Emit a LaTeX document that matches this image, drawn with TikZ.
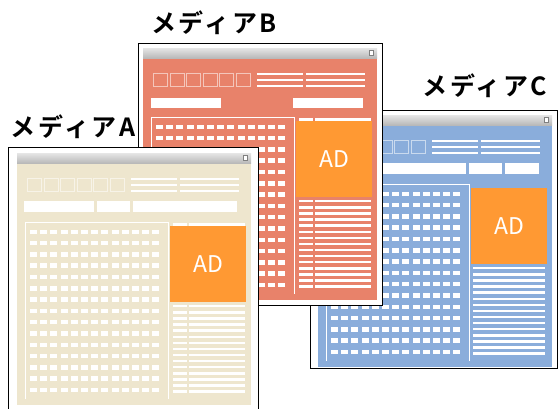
\documentclass[tikz,border=0pt]{standalone}
\usepackage{fontspec}
\newfontfamily\jpfont{Noto Sans CJK JP}[BoldFont=* Bold]
\newfontfamily\jplabel{Noto Sans CJK JP}[BoldFont=* Bold, LetterSpace=10]

\definecolor{mediaA}{RGB}{238,230,206}
\definecolor{mediaB}{RGB}{232,130,106}
\definecolor{mediaC}{RGB}{138,173,219}
\definecolor{adorange}{RGB}{255,153,51}

\tikzset{
	winframe/.style={draw=black, fill=white, line width=.8pt},
	adbox/.style={fill=adorange, text=white, minimum width=76pt, minimum height=76pt,
		inner sep=0pt, font=\jpfont\fontsize{23}{23}\selectfont},
	medialabel/.style={font=\jplabel\bfseries\fontsize{25}{25}\selectfont},
	whitebar/.style={fill=white}
}

% common parts of one page, inner area 234 x 252
\newcommand{\mediapage}[2]{%
	\fill[#1] (0,0) rectangle (234,252);
	\shade[top color=gray!20, bottom color=gray!55] (0,0) rectangle (234,10);
	\draw[gray, fill=white] (226,2.5) rectangle (230.5,7.5);
	\foreach \i in {0,...,5}
		\draw[white, opacity=.55, line width=1pt] (10.5+16.5*\i,25.5) rectangle ++(14,13);
	\foreach \y in {26,32,38} {
		\fill[whitebar] (114,\y-1.3) rectangle (160,\y+1.3);
		\fill[whitebar] (163,\y-1.3) rectangle (222,\y+1.3);
	}
	\draw[white, line width=1pt] (8,246) -- (8,69) -- (151,69) -- (151,246);
	\foreach \r in {0,...,14}
		\foreach \c in {0,...,12}
			\fill[whitebar] (13+10.2*\c,76.5+11.3*\r) rectangle ++(7,4.5);
	\node[adbox] (ad#2) at (191,111) {AD};
}

\begin{document}
\begin{tikzpicture}[x=1pt, y=-1pt]
	\useasboundingbox (0,0) rectangle (558,408);

	% MEDIA C
	\draw[winframe] (310,110) rectangle (557.6,368);
	\begin{scope}[shift={(318,115)}]
		\mediapage{mediaC}{C}
		\fill[whitebar] (7,48) rectangle (148,59);
		\fill[whitebar] (151,48) rectangle (184,59);
		\fill[whitebar] (187,48) rectangle (221,59);
		\foreach \r in {0,...,14}
			\fill[whitebar] (155,152+6.1*\r) rectangle (227,154.4+6.1*\r);
	\end{scope}

	% MEDIA B
	\draw[winframe] (138.4,43) rectangle (382,305);
	\begin{scope}[shift={(143,48)}]
		\mediapage{mediaB}{B}
		\fill[whitebar] (8,50) rectangle (78,60);
		\fill[whitebar] (150,50) rectangle (220,60);
		\fill[whitebar] (156,70) rectangle (170,72.5);
		\fill[whitebar] (172,70) rectangle (228,72.5);
		\foreach \r in {0,...,14} {
			\fill[whitebar] (156,152+6.1*\r) rectangle (170,154.4+6.1*\r);
			\fill[whitebar] (172,152+6.1*\r) rectangle (228,154.4+6.1*\r);
		}
	\end{scope}

	% MEDIA A
	\draw[winframe] (8.4,147.6) rectangle (258,409);
	\begin{scope}[shift={(17,153)}]
		\mediapage{mediaA}{A}
		\fill[whitebar] (7,48) rectangle (77,59);
		\fill[whitebar] (80,48) rectangle (113,59);
		\fill[whitebar] (116,48) rectangle (220,59);
		\fill[whitebar] (156,70) rectangle (170,72.5);
		\fill[whitebar] (172,70) rectangle (228,72.5);
		\foreach \r in {0,...,14} {
			\fill[whitebar] (156,152+6.1*\r) rectangle (170,154.4+6.1*\r);
			\fill[whitebar] (172,152+6.1*\r) rectangle (228,154.4+6.1*\r);
		}
	\end{scope}

	% labels
	\node[medialabel] (labelA) at (73,127) {メディアA};
	\node[medialabel] (labelB) at (214,23) {メディアB};
	\node[medialabel] (labelC) at (485,86) {メディアC};
\end{tikzpicture}
\end{document}
